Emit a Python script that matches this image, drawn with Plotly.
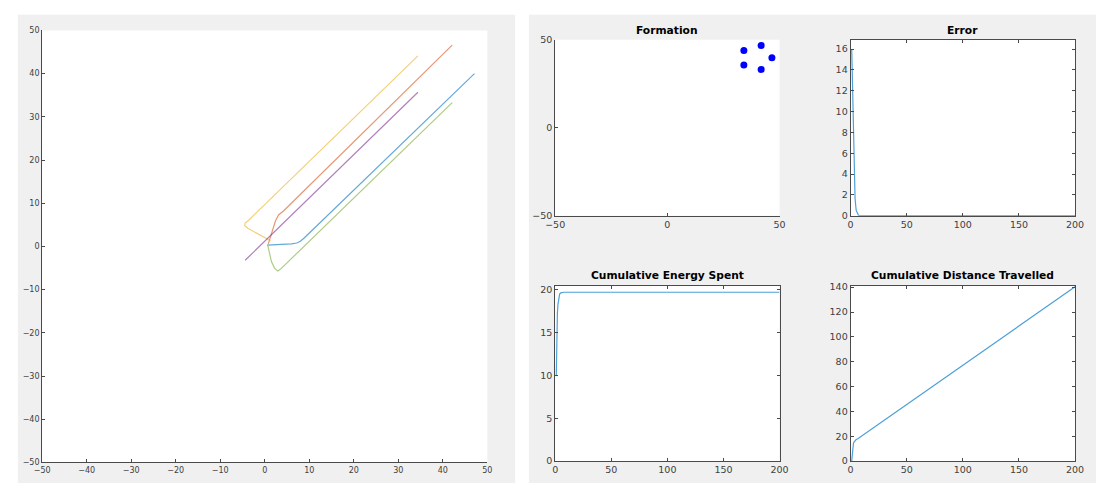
import plotly.graph_objects as go

W, H = 1105, 488

# ---- trajectories of the five agents (x, y) ----
agent1_x = [0.5, 3.0, 6.0, 7.2, 8.0, 8.8, 47.1]
agent1_y = [0.3, 0.4, 0.6, 0.8, 1.2, 1.9, 40.0]
agent2_x = [0.8, 1.6, 2.4, 3.1, 4.2, 42.1]
agent2_y = [0.6, 3.0, 5.9, 7.3, 8.2, 46.6]
agent3_x = [1.3, -1.5, -3.8, -4.5, -4.4, -3.8, 34.4]
agent3_y = [1.3, 2.9, 4.2, 4.8, 5.4, 5.9, 44.1]
agent4_x = [0.9, -4.4, 34.4]
agent4_y = [2.1, -3.2, 35.7]
agent5_x = [0.7, 1.0, 1.5, 2.2, 2.9, 3.5, 42.1]
agent5_y = [0.2, -1.5, -3.5, -5.0, -5.7, -5.3, 33.3]

# ---- final formation positions ----
form_x = [34.1, 41.8, 46.6, 41.8, 34.1]
form_y = [43.9, 46.7, 39.8, 33.1, 35.7]

# ---- error over time ----
err_t = [1, 1.5, 2, 2.5, 3, 3.5, 4, 5, 6, 7, 8, 200]
err_v = [16.0, 13.0, 10.0, 7.0, 4.5, 2.8, 1.6, 0.5, 0.15, 0.04, 0.01, 0.0]

# ---- cumulative energy ----
en_t = [1, 1.25, 1.5, 1.75, 2, 2.5, 3, 3.5, 4, 5, 6, 8, 200]
en_v = [10.0, 12.5, 14.0, 16.3, 17.3, 18.3, 18.9, 19.3, 19.5, 19.65, 19.7, 19.72, 19.72]

# ---- cumulative distance ----
dist_t = [1, 1.5, 2, 2.5, 3, 4, 5, 6.4, 200]
dist_v = [0.0, 7.0, 11.5, 14.0, 15.3, 16.6, 17.3, 17.9, 140.3]

colors = ["#0072BD", "#D95319", "#EDB120", "#7E2F8E", "#77AC30"]
agents = [(agent1_x, agent1_y), (agent2_x, agent2_y), (agent3_x, agent3_y),
          (agent4_x, agent4_y), (agent5_x, agent5_y)]

fig = go.Figure()

for (ax_, ay_), c in zip(agents, colors):
    fig.add_trace(go.Scatter(x=ax_, y=ay_, mode="lines", xaxis="x", yaxis="y",
                             line=dict(color=c, width=1.2), opacity=0.6,
                             showlegend=False, hoverinfo="skip"))

fig.add_trace(go.Scatter(x=form_x, y=form_y, mode="markers", xaxis="x2", yaxis="y2",
                         marker=dict(color="#0000FF", size=7), showlegend=False))

line_c = "#4DA0D8"
fig.add_trace(go.Scatter(x=err_t, y=err_v, mode="lines", xaxis="x3", yaxis="y3",
                         line=dict(color=line_c, width=1.2), showlegend=False))
fig.add_trace(go.Scatter(x=en_t, y=en_v, mode="lines", xaxis="x4", yaxis="y4",
                         line=dict(color=line_c, width=1.2), showlegend=False))
fig.add_trace(go.Scatter(x=dist_t, y=dist_v, mode="lines", xaxis="x5", yaxis="y5",
                         line=dict(color=line_c, width=1.2), showlegend=False))


def px_dom(a, b):
    return [a / W, b / W]


def py_dom(top, bottom):
    return [1 - bottom / H, 1 - top / H]


axis_col = "#4a4a4a"
tick_col = "#404040"


def ax(domain, rng, tickvals, anchor, size, mirror=False):
    return dict(domain=domain, range=rng, tickvals=tickvals, anchor=anchor,
                showline=True, linecolor=axis_col, linewidth=1,
                mirror="ticks" if mirror else False,
                ticks="inside", ticklen=3, tickcolor=axis_col,
                showgrid=False, zeroline=False, fixedrange=True,
                tickfont=dict(family="DejaVu Sans", size=size, color=tick_col))


left_x = px_dom(32.7, 485.7)
left_y = py_dom(25, 467)
c1_x = px_dom(554.7, 783)
c2_x = px_dom(855.3, 1083.7)
r1_y = py_dom(34.5, 214.5)
r2_y = py_dom(286, 465.5)

big = list(range(-50, 51, 10))
fs = 9.5
fig.update_layout(
    width=W, height=H,
    margin=dict(l=0, r=0, t=0, b=0),
    paper_bgcolor="white", plot_bgcolor="white",
    xaxis=ax(left_x, [-50, 50], big, "y", 8),
    yaxis=ax(left_y, [-50, 50], big, "x", 8),
    xaxis2=ax(c1_x, [-50, 50], [-50, 0, 50], "y2", fs),
    yaxis2=ax(r1_y, [-50, 50], [-50, 0, 50], "x2", fs),
    xaxis3=ax(c2_x, [0, 200], [0, 50, 100, 150, 200], "y3", fs, True),
    yaxis3=ax(r1_y, [0, 16.9], list(range(0, 17, 2)), "x3", fs, True),
    xaxis4=ax(c1_x, [0, 200], [0, 50, 100, 150, 200], "y4", fs, True),
    yaxis4=ax(r2_y, [0, 20.5], [0, 5, 10, 15, 20], "x4", fs, True),
    xaxis5=ax(c2_x, [0, 200], [0, 50, 100, 150, 200], "y5", fs, True),
    yaxis5=ax(r2_y, [0, 141.3], list(range(0, 141, 20)), "x5", fs, True),
)

# grey figure panels behind the axes
shapes = [
    dict(type="rect", xref="paper", yref="paper", x0=8 / W, x1=514 / W, y0=0, y1=1 - 9 / H,
         fillcolor="#F0F0F0", line=dict(width=0), layer="below"),
    dict(type="rect", xref="paper", yref="paper", x0=528 / W, x1=1, y0=0, y1=1 - 9 / H,
         fillcolor="#F0F0F0", line=dict(width=0), layer="below"),
]
for k in ["", "2", "3", "4", "5"]:
    shapes.append(dict(type="rect", xref=f"x{k} domain", yref=f"y{k} domain",
                       x0=0, x1=1, y0=0, y1=1, fillcolor="white",
                       line=dict(width=0), layer="below"))
fig.update_layout(shapes=shapes)

titles = [
    ("Formation", (554.7 + 783) / 2, 25),
    ("Error", (855.3 + 1083.7) / 2, 25),
    ("Cumulative Energy Spent", (554.7 + 783) / 2, 276),
    ("Cumulative Distance Travelled", (855.3 + 1083.7) / 2, 276),
]
for text, cx, cy in titles:
    fig.add_annotation(text=f"<b>{text}</b>", xref="paper", yref="paper",
                       x=cx / W, y=1 - cy / H, showarrow=False,
                       xanchor="center", yanchor="middle",
                       font=dict(family="DejaVu Sans", size=10.7, color="black"))

fig.write_html("out.html")
